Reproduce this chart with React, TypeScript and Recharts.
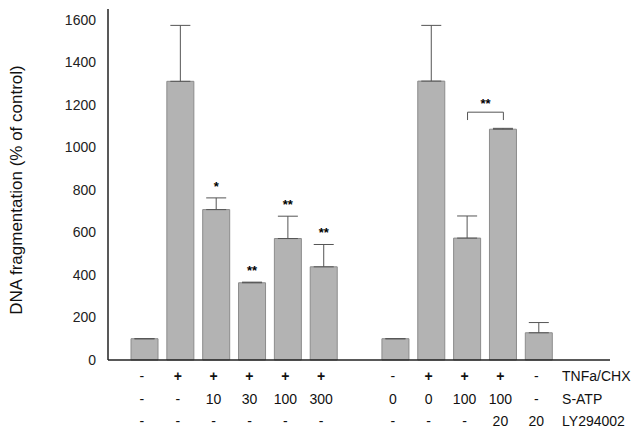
import React from 'react'
import { BarChart, Bar, XAxis, YAxis, ErrorBar, LabelList, ReferenceLine } from 'recharts'

document.body.style.margin = '0'

// one slot per bar, an empty slot between the two experiments, last slot holds row names
const slots = ['a1', 'a2', 'a3', 'a4', 'a5', 'a6', 'gap', 'b1', 'b2', 'b3', 'b4', 'b5', 'names']
const fragmentation = [100, 1310, 707, 363, 571, 438, null, 100, 1311, 573, 1085, 128, null]
const errorUp = [0, 263, 55, 3, 105, 105, null, 0, 262, 104, 4, 48, null]
const significance = ['', '', '*', '**', '**', '**', '', '', '', '', '', '', '']

const tnfRow = ['-', '+', '+', '+', '+', '+', '', '-', '+', '+', '+', '-', 'TNFa/CHX']
const satpRow = ['-', '-', '10', '30', '100', '300', '', '0', '0', '100', '100', '-', 'S-ATP']
const lyRow = ['-', '-', '-', '-', '-', '-', '', '-', '-', '-', '20', '20', 'LY294002']

const yTicks = [0, 200, 400, 600, 800, 1000, 1200, 1400, 1600]

const data = slots.map((slot, i) => ({
  slot,
  value: fragmentation[i],
  err: errorUp[i] == null ? null : [0, errorUp[i]],
  sig: significance[i],
}))

const FONT = '"Liberation Sans", Arial, sans-serif'

const RowTick = (props: any) => {
  const { x, y, payload } = props
  const i = payload.index
  const isName = slots[i] === 'names'
  const rows = [tnfRow[i], satpRow[i], lyRow[i]]
  return (
    <g>
      {rows.map((t, r) => (
        <text
          key={r}
          x={isName ? x - 13 : x - 3}
          y={y + 13 + r * 22.5}
          textAnchor={isName ? 'start' : 'middle'}
          fontFamily={FONT}
          fontSize={14}
          fontWeight={!isName && (t === '+') ? 'bold' : 'normal'}
          fill="#111"
        >
          {t}
        </text>
      ))}
    </g>
  )
}

const SigLabel = (props: any) => {
  const { x, y, width, height, index, value } = props
  if (!value) return null
  const v = fragmentation[index] as number
  const e = (errorUp[index] as number) || 0
  const top = y - (e * height) / v
  return (
    <text x={x + width / 2} y={top - 7} textAnchor="middle" fontFamily={FONT} fontSize={13} fontWeight="bold" fill="#000">
      {value}
    </text>
  )
}

const YLabel = () => (
  <text
    x={16}
    y={190}
    transform="rotate(-90 16 190)"
    textAnchor="middle"
    dominantBaseline="central"
    fontFamily={FONT}
    fontSize={17}
    fill="#111"
  >
    DNA fragmentation (% of control)
  </text>
)

export default function App() {
  return (
    <BarChart width={640} height={437} data={data} margin={{ top: 9, right: 30, left: 38, bottom: 0 }} barSize={27}>
      <XAxis
        dataKey="slot"
        interval={0}
        tickLine={false}
        axisLine={{ stroke: '#222', strokeWidth: 1.5 }}
        padding={{ left: 19, right: 17 }}
        height={77}
        tick={<RowTick />}
      />
      <YAxis
        width={70}
        domain={[0, 1650]}
        ticks={yTicks}
        tickLine={false}
        tickSize={6}
        tickMargin={6}
        axisLine={{ stroke: '#222', strokeWidth: 1.5 }}
        tick={{ fontFamily: FONT, fontSize: 14, fill: '#222' }}
        label={<YLabel />}
      />
      <ReferenceLine segment={[{ x: 'b3', y: 1165 }, { x: 'b4', y: 1165 }]} stroke="#555" strokeWidth={1}
        label={{ value: '**', position: 'top', offset: 4, fill: '#000', fontSize: 13, fontWeight: 'bold', fontFamily: FONT }} />
      <ReferenceLine segment={[{ x: 'b3', y: 1165 }, { x: 'b3', y: 1128 }]} stroke="#555" strokeWidth={1} />
      <ReferenceLine segment={[{ x: 'b4', y: 1165 }, { x: 'b4', y: 1128 }]} stroke="#555" strokeWidth={1} />
      <Bar dataKey="value" fill="#b3b3b3" stroke="#8c8c8c" strokeWidth={1} isAnimationActive={false}>
        <ErrorBar dataKey="err" width={10} stroke="#555" strokeWidth={1} direction="y" />
        <LabelList dataKey="sig" content={<SigLabel />} />
      </Bar>
    </BarChart>
  )
}
